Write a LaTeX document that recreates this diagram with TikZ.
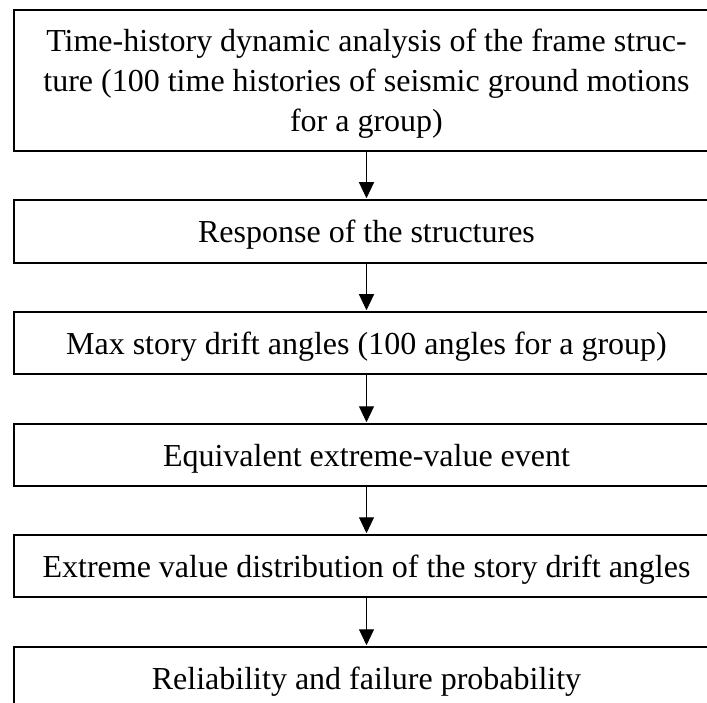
\documentclass[tikz,border=0pt]{standalone}
\usepackage{fontspec}
\setmainfont{Liberation Serif}
\usetikzlibrary{arrows.meta}
\tikzset{
  flowbox/.style={draw, line width=1.7pt, minimum width=705pt, inner sep=0pt, align=center,
    text depth=0pt, font=\fontsize{32}{40}\selectfont},
  flowarrow/.style={line width=1pt, -{Triangle[width=15pt,length=16pt]}, shorten >=0.9pt}
}
\begin{document}
\begin{tikzpicture}[x=1pt,y=-1pt]
\useasboundingbox (0,0) rectangle (707,703);
\clip (0,0) rectangle (707,703);
\node[flowbox, minimum height=141pt] (b1) at (366.5,80.5) {Time-history dynamic analysis of the frame struc-\\ture (100 time histories of seismic ground motions\\for a group)};
\node[flowbox, minimum height=63pt] (b2) at (366.5,231.5) {Response of the structures};
\node[flowbox, minimum height=62pt] (b3) at (366.5,343) {Max story drift angles (100 angles for a group)};
\node[flowbox, minimum height=62pt] (b4) at (366.5,455) {Equivalent extreme-value event};
\node[flowbox, minimum height=62pt] (b5) at (366.5,566) {Extreme value distribution of the story drift angles};
\node[flowbox, minimum height=62pt] (b6) at (366.5,678) {Reliability and failure probability};
\draw[flowarrow] (b1.south) -- (b2.north);
\draw[flowarrow] (b2.south) -- (b3.north);
\draw[flowarrow] (b3.south) -- (b4.north);
\draw[flowarrow] (b4.south) -- (b5.north);
\draw[flowarrow] (b5.south) -- (b6.north);
\end{tikzpicture}
\end{document}
